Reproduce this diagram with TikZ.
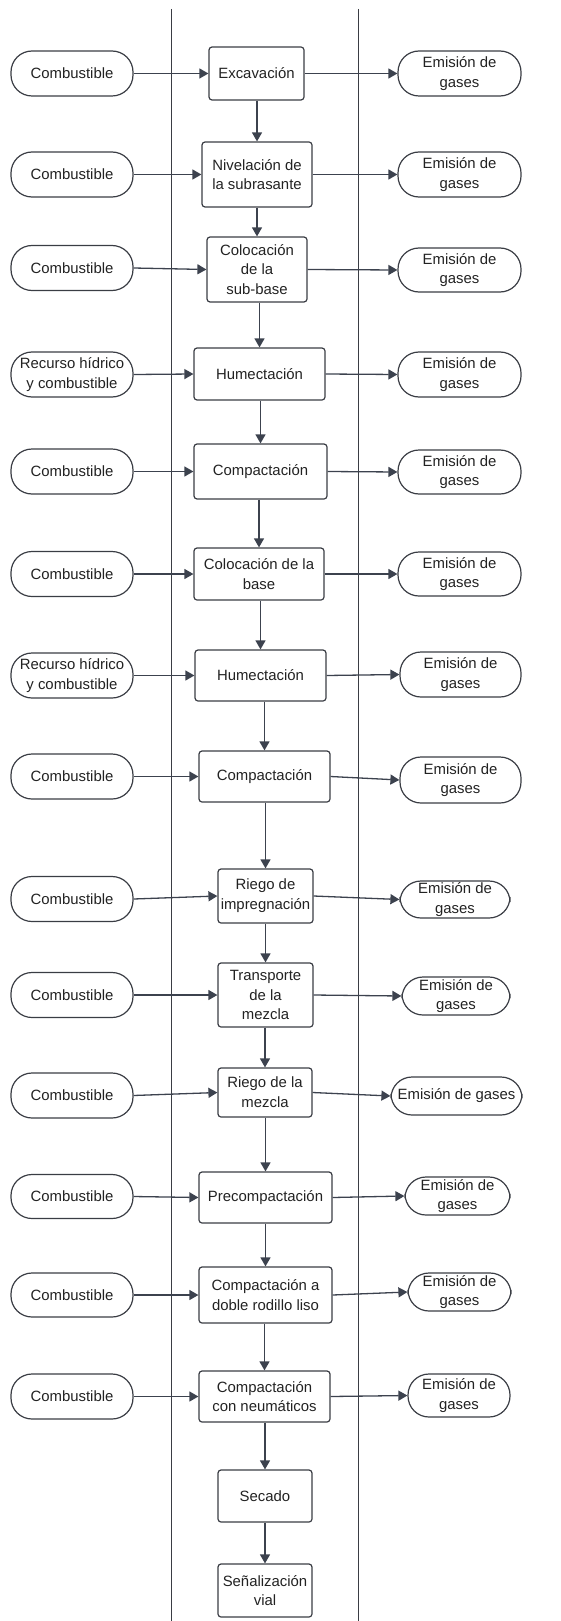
\documentclass[tikz,border=0pt]{standalone}
\usepackage{fontspec}
\setmainfont{Liberation Sans}
\usetikzlibrary{arrows.meta}
\definecolor{ink}{HTML}{222222}
\definecolor{edge}{HTML}{3A3D44}
\definecolor{flow}{HTML}{3C424E}
\tikzset{
  base/.style={draw=edge, line width=1.2pt, inner sep=0pt, align=center,
    text=ink, font=\fontsize{14.9}{19.8}\selectfont},
  pill/.style={base, rounded corners=21pt},
  proc/.style={base, rounded corners=3pt},
  arr/.style={draw=flow, line width=1.3pt, -{Triangle[length=9pt,width=10pt]}},
  lane/.style={draw=edge, line width=0.9pt}
}
\begin{document}
\begin{tikzpicture}[x=1pt,y=-1pt]
\useasboundingbox (0,0) rectangle (560,1621);

% swim-lane separators
\coordinate (lt) at (171,9);   \coordinate (lb) at (171,1621);
\coordinate (rt) at (358,9);   \coordinate (rb) at (358,1621);
\draw[lane] (lt) -- (lb);
\draw[lane] (rt) -- (rb);

% ---- process column ----
\node[proc, minimum width=95, minimum height=53] (b1) at (256.5,73.5) {Excavación};
\node[proc, minimum width=110, minimum height=65] (b2) at (257,174.5) {Nivelación de\\la subrasante};
\node[proc, minimum width=100, minimum height=65] (b3) at (257,269.5) {Colocación\\de la\\sub-base};
\node[proc, minimum width=131, minimum height=52] (b4) at (259.5,374) {Humectación};
\node[proc, minimum width=133, minimum height=55] (b5) at (260.5,471.5) {Compactación};
\node[proc, minimum width=130, minimum height=52] (b6) at (259,574) {Colocación de la\\base};
\node[proc, minimum width=131, minimum height=51] (b7) at (260.5,675.5) {Humectación};
\node[proc, minimum width=131, minimum height=51] (b8) at (264.5,776.5) {Compactación};
\node[proc, minimum width=95, minimum height=54] (b9) at (265.5,896) {Riego de\\impregnación};
\node[proc, minimum width=95, minimum height=64] (b10) at (265.5,995) {Transporte\\de la\\mezcla};
\node[proc, minimum width=94, minimum height=49] (b11) at (265,1092.5) {Riego de la\\mezcla};
\node[proc, minimum width=133, minimum height=51] (b12) at (265.5,1197.5) {Precompactación};
\node[proc, minimum width=133, minimum height=56] (b13) at (265.5,1295) {Compactación a\\doble rodillo liso};
\node[proc, minimum width=131, minimum height=51] (b14) at (264.5,1396.5) {Compactación\\con neumáticos};
\node[proc, minimum width=94, minimum height=52] (b15) at (265,1496) {Secado};
\node[proc, minimum width=94, minimum height=53] (b16) at (265,1590.5) {Señalización\\vial};

% ---- inputs ----
\node[pill, minimum width=122, minimum height=45] (l1) at (72,73.5) {Combustible};
\node[pill, minimum width=122, minimum height=45] (l2) at (72,174.5) {Combustible};
\node[pill, minimum width=122, minimum height=45] (l3) at (72,268) {Combustible};
\node[pill, minimum width=122, minimum height=45] (l4) at (72,374.5) {Recurso hídrico\\y combustible};
\node[pill, minimum width=122, minimum height=45] (l5) at (72,471.5) {Combustible};
\node[pill, minimum width=122, minimum height=45] (l6) at (72,574) {Combustible};
\node[pill, minimum width=122, minimum height=45] (l7) at (72,675.5) {Recurso hídrico\\y combustible};
\node[pill, minimum width=122, minimum height=45] (l8) at (72,776.5) {Combustible};
\node[pill, minimum width=122, minimum height=45] (l9) at (72,899) {Combustible};
\node[pill, minimum width=122, minimum height=45] (l10) at (72,995) {Combustible};
\node[pill, minimum width=122, minimum height=45] (l11) at (72,1095.5) {Combustible};
\node[pill, minimum width=122, minimum height=44] (l12) at (72,1196.5) {Combustible};
\node[pill, minimum width=122, minimum height=44] (l13) at (72,1295) {Combustible};
\node[pill, minimum width=122, minimum height=45] (l14) at (72,1396.5) {Combustible};

% ---- outputs ----
\node[pill, minimum width=123, minimum height=45] (r1) at (459.5,73.5) {Emisión de\\gases};
\node[pill, minimum width=123, minimum height=45] (r2) at (459.5,174.5) {Emisión de\\gases};
\node[pill, minimum width=123, minimum height=44] (r3) at (459.5,270) {Emisión de\\gases};
\node[pill, minimum width=123, minimum height=45] (r4) at (459.5,374.5) {Emisión de\\gases};
\node[pill, minimum width=123, minimum height=44] (r5) at (459.5,472) {Emisión de\\gases};
\node[pill, minimum width=123, minimum height=44] (r6) at (459.5,574) {Emisión de\\gases};
\node[pill, minimum width=121, minimum height=45] (r7) at (460.5,674.5) {Emisión de\\gases};
\node[pill, minimum width=121, minimum height=46] (r8) at (460.5,780) {Emisión de\\gases};
\node[pill, minimum width=110, minimum height=37] (r9) at (455,899.5) {Emisión de\\gases};
\node[pill, minimum width=108, minimum height=38] (r10) at (456,996) {Emisión de\\gases};
\node[pill, minimum width=131, minimum height=38] (r11) at (456.5,1096) {Emisión de gases};
\node[pill, minimum width=105, minimum height=38] (r12) at (457.5,1196) {Emisión de\\gases};
\node[pill, minimum width=103, minimum height=38] (r13) at (459.5,1292) {Emisión de\\gases};
\node[pill, minimum width=102, minimum height=43] (r14) at (459,1395.5) {Emisión de\\gases};

% ---- flow between steps ----
\foreach \a/\b in {b1/b2,b2/b3,b3/b4,b4/b5,b5/b6,b6/b7,b7/b8,b8/b9,b9/b10,
                   b10/b11,b11/b12,b12/b13,b13/b14,b14/b15,b15/b16}
  \draw[arr] (\b.north |- \a.south) -- (\b.north);

% ---- inputs and emissions ----
\foreach \i in {1,...,14}{
  \draw[arr] (l\i.east) -- (b\i.west);
  \draw[arr] (b\i.east) -- (r\i.west);
}
\end{tikzpicture}
\end{document}
